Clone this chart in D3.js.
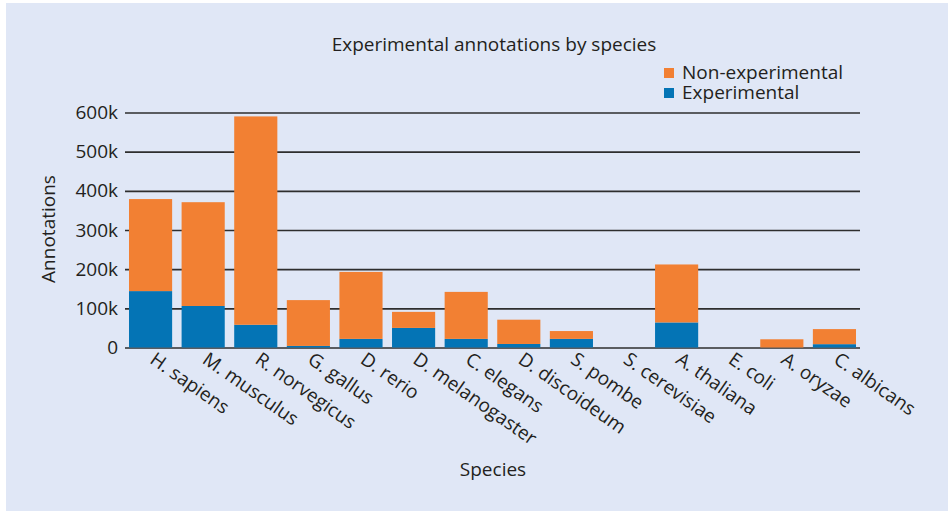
<!DOCTYPE html>
<html>
<head>
<meta charset="utf-8">
<script src="https://cdn.jsdelivr.net/npm/d3@7"></script>
<style>
  body { margin: 0; background: #ffffff; }
  svg { display: block; }
  text { font-family: "Open Sans", "Noto Sans", sans-serif; fill: #231f20; }
</style>
</head>
<body>
<svg id="chart" width="948" height="511"></svg>
<script>
// values
var species = ["H. sapiens", "M. musculus", "R. norvegicus", "G. gallus", "D. rerio",
               "D. melanogaster", "C. elegans", "D. discoideum", "S. pombe", "S. cerevisiae",
               "A. thaliana", "E. coli", "A. oryzae", "C. albicans"];
var experimental    = [144000, 106000, 58000, 4000, 22000, 50000, 22000, 9000, 22000, 0, 64000, 0, 0, 8500];
var nonExperimental = [235000, 265000, 532000, 117000, 171000, 41000, 120000, 62000, 20000, 0, 148000, 0, 21000, 38500];
var yTicks = [0, 100000, 200000, 300000, 400000, 500000, 600000];
var seriesNames = ["Experimental", "Non-experimental"];
var colors = {"Experimental": "#0474b5", "Non-experimental": "#f28033"};

var svg = d3.select("#chart"),
    fontSize = 19;

// panel background
svg.append("rect")
    .attr("x", 6).attr("y", 3)
    .attr("width", 942).attr("height", 508)
    .attr("fill", "#e0e7f6");

var plotLeft = 125, plotRight = 860, plotTop = 112.5, plotBottom = 347.5;

var rows = species.map(function(s, i) {
    return {species: s, "Experimental": experimental[i], "Non-experimental": nonExperimental[i]};
});
var stacked = d3.stack().keys(seriesNames)(rows);

var x = d3.scaleBand().domain(species).range([plotLeft, plotRight])
    .paddingInner(0.18).paddingOuter(0.076);
var y = d3.scaleLinear().domain([0, 600000]).range([plotBottom, plotTop]);

// gridlines + tick labels
var yAxis = svg.append("g")
    .attr("transform", "translate(" + plotLeft + ",0)")
    .call(d3.axisLeft(y).tickValues(yTicks)
        .tickSize(-(plotRight - plotLeft))
        .tickPadding(7)
        .tickFormat(function(d) { return d === 0 ? "0" : (d / 1000) + "k"; }));
yAxis.select(".domain").remove();
yAxis.selectAll(".tick line").attr("stroke", "#2e2e2e").attr("stroke-width", 1.6);
yAxis.selectAll(".tick text")
    .attr("font-size", fontSize)
    .attr("font-family", "Open Sans")
    .attr("fill", "#231f20");

// bars
svg.append("g").selectAll("g")
    .data(stacked)
    .enter().append("g")
    .attr("fill", function(d) { return colors[d.key]; })
    .selectAll("rect")
    .data(function(d) { return d; })
    .enter().append("rect")
    .attr("x", function(d) { return x(d.data.species); })
    .attr("y", function(d) { return y(d[1]); })
    .attr("width", x.bandwidth())
    .attr("height", function(d) { return y(d[0]) - y(d[1]); });

// x labels
svg.append("g").selectAll("text")
    .data(species)
    .enter().append("text")
    .attr("transform", function(d) {
        return "translate(" + (x(d) + x.bandwidth() / 2 + 6) + "," + 351 + ") rotate(35)";
    })
    .attr("dy", "0.72em")
    .attr("font-size", fontSize)
    .text(function(d) { return d; });

// title
svg.append("text")
    .attr("x", 494).attr("y", 51)
    .attr("text-anchor", "middle")
    .attr("font-size", fontSize)
    .text("Experimental annotations by species");

// axis titles
svg.append("text")
    .attr("transform", "translate(55,229) rotate(-90)")
    .attr("text-anchor", "middle")
    .attr("font-size", fontSize)
    .text("Annotations");

svg.append("text")
    .attr("x", 493).attr("y", 476)
    .attr("text-anchor", "middle")
    .attr("font-size", fontSize)
    .text("Species");

// legend
var legend = svg.append("g").selectAll("g")
    .data(["Non-experimental", "Experimental"])
    .enter().append("g")
    .attr("transform", function(d, i) { return "translate(664," + (68 + i * 20) + ")"; });
legend.append("rect")
    .attr("width", 10).attr("height", 10)
    .attr("fill", function(d) { return colors[d]; });
legend.append("text")
    .attr("x", 18).attr("y", 11)
    .attr("font-size", fontSize)
    .text(function(d) { return d; });
</script>
</body>
</html>
